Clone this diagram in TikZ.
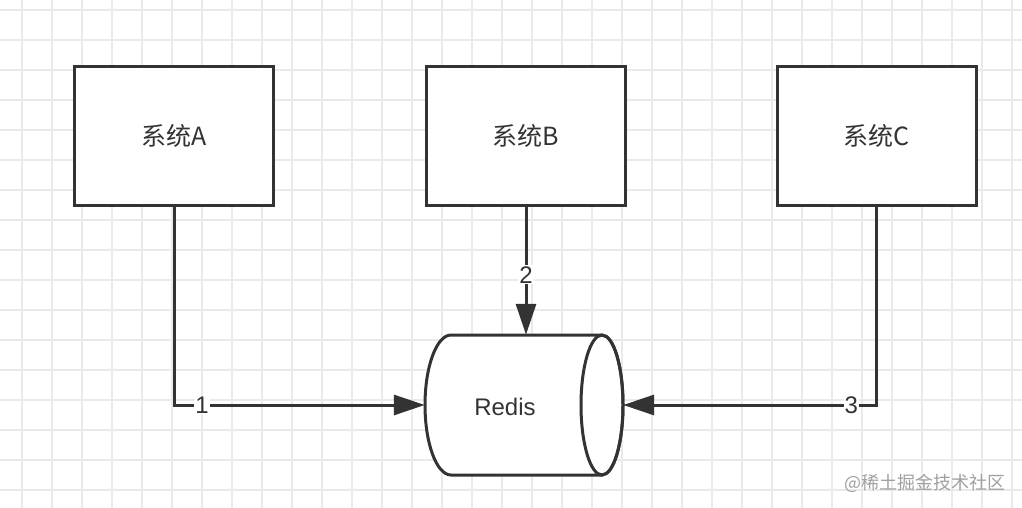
\documentclass[tikz,border=0pt]{standalone}
\usepackage{fontspec}
\setmainfont{Liberation Sans}
\newfontfamily\cjk{Noto Sans CJK SC}
\usetikzlibrary{arrows.meta}
\definecolor{ink}{HTML}{333333}
\definecolor{gridc}{HTML}{EAEAEA}
\definecolor{wmark}{HTML}{A0A0A0}
\begin{document}
\begin{tikzpicture}[x=1pt,y=-1pt,
  sysbox/.style={draw=ink,line width=3pt,fill=white,minimum width=199pt,minimum height=139pt,inner sep=0pt,text=ink,font=\cjk\fontsize{25}{29}\selectfont},
  conn/.style={draw=ink,line width=3pt,-{Triangle[length=31pt,width=20pt]}},
  num/.style={fill=white,inner sep=1pt,text=ink,font=\fontsize{24}{28}\selectfont},
  gridline/.style={draw=gridc,line width=1.2pt}]
\useasboundingbox[fill=white] (0,0) rectangle (1022,508);
% grid
\foreach \k in {0,...,33} {\draw[gridline] (22+30*\k,0) -- (22+30*\k,508);}
\foreach \k in {0,...,16} {\draw[gridline] (0,10+30*\k) -- (1022,10+30*\k);}
% systems
\node[sysbox] (A) at (174,136) {系统A};
\node[sysbox] (B) at (526,136) {系统B};
\node[sysbox] (C) at (876.5,136) {系统C};
% cylinder
\draw[ink,line width=3pt,fill=white] (451,335) -- (602,335)
  arc[start angle=-90,end angle=90,x radius=21,y radius=70]
  -- (451,475)
  arc[start angle=-270,end angle=-90,x radius=26,y radius=70] -- cycle;
\draw[ink,line width=3pt] (602,405) ellipse[x radius=21,y radius=70];
\node[minimum width=198pt,minimum height=140pt,inner sep=0pt] (R) at (524,405) {};
\node[text=ink,font=\fontsize{24}{28}\selectfont] (redis) at (505,407) {Redis};
% connectors
\draw[conn] (A.south) |- node[num,pos=0.556] {1} (R.west);
\draw[conn] (B.south) -- node[num,pos=0.53] {2} (B.south |- R.north);
\draw[conn] (C.south) |- node[num,pos=0.55] {3} (R.east);
% watermark
\node[text=wmark,font=\cjk\fontsize{18}{22}\selectfont,inner sep=0pt] (wm) at (925,483) {@稀土掘金技术社区};
\end{tikzpicture}
\end{document}
